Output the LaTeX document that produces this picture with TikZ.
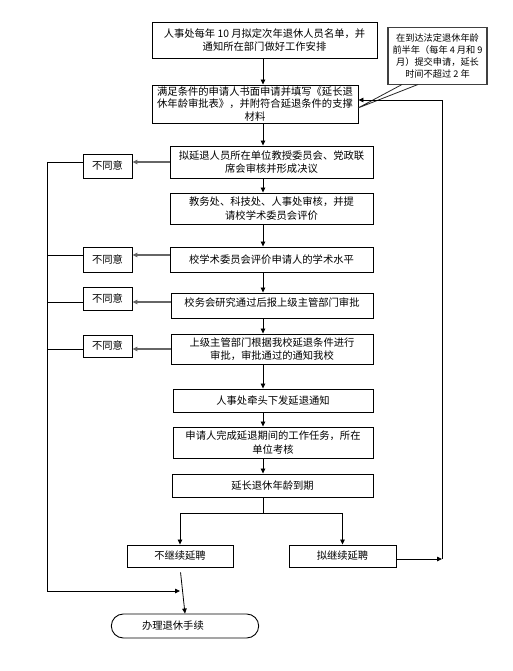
\documentclass[tikz,border=0pt]{standalone}
\usepackage{fontspec}
\setmainfont{Noto Sans CJK SC}
\usetikzlibrary{arrows.meta,shapes.misc}
\tikzset{
  box/.style={draw=black,line width=0.9pt,align=center,inner sep=1pt,font=\fontsize{10.3}{13.5}\selectfont},
  nobox/.style={box,minimum width=49pt},
  arr/.style={-{Triangle[length=5pt,width=4.5pt]},line width=0.8pt},
  garr/.style={-{Triangle[length=5pt,width=4.5pt]},line width=1.3pt,draw=black!60},
  ln/.style={line width=0.8pt},
}
\begin{document}
\begin{tikzpicture}[x=1pt,y=-1pt]
\useasboundingbox (0,0) rectangle (513,671);
% main nodes
\node[box,minimum width=225pt,minimum height=36pt] (b1) at (264.5,40) {人事处每年 10 月拟定次年退休人员名单，并\\通知所在部门做好工作安排};
\node[box,minimum width=206pt,minimum height=38pt,inner sep=0pt,font=\fontsize{10.3}{12.5}\selectfont] (b2) at (255,104) {满足条件的申请人书面申请并填写《延长退\\休年龄审批表》，并附符合延退条件的支撑\\材料};
\node[box,minimum width=203pt,minimum height=32pt] (b3) at (271.5,162) {拟延退人员所在单位教授委员会、党政联\\席会审核并形成决议};
\node[box,minimum width=203pt,minimum height=31pt] (b4) at (271.5,208.5) {教务处、科技处、人事处审核，并提\\请校学术委员会评价};
\node[box,minimum width=203pt,minimum height=25pt] (b5) at (271.5,259.5) {校学术委员会评价申请人的学术水平};
\node[box,minimum width=202pt,minimum height=25pt,text depth=7pt] (b6) at (272,305.5) {校务会研究通过后报上级主管部门审批};
\node[box,minimum width=202pt,minimum height=30pt] (b7) at (272,349) {上级主管部门根据我校延退条件进行\\审批，审批通过的通知我校};
\node[box,minimum width=200pt,minimum height=23pt] (b8) at (273,400.5) {人事处牵头下发延退通知};
\node[box,minimum width=200pt,minimum height=31pt] (b9) at (273,442.5) {申请人完成延退期间的工作任务，所在\\单位考核};
\node[box,minimum width=201pt,minimum height=23pt] (b10) at (272.5,485.5) {延长退休年龄到期};
% callout
\node[draw=black!75,line width=1.6pt,align=center,minimum width=99pt,minimum height=57pt,inner sep=1pt,font=\fontsize{9.2}{12}\selectfont] (co) at (437.5,56) {在到达法定退休年龄\\前半年（每年 4 月和 9\\月）提交申请，延长\\时间不超过 2 年};
\coordinate (cA) at (402,84.5);
\coordinate (cB) at (418,84.5);
\coordinate (tip) at (358,108);
\draw[ln,black!85] (cA) -- (tip) -- (cB);
% disagree nodes
\node[nobox,minimum height=24pt] (n1) at (107.5,166) {不同意};
\node[nobox,minimum height=25pt] (n2) at (107.5,259.5) {不同意};
\node[nobox,minimum height=23pt] (n3) at (107.5,298.5) {不同意};
\node[nobox,minimum height=22pt] (n4) at (107.5,346) {不同意};
% bottom nodes
\node[box,minimum width=106pt,minimum height=22pt] (nc) at (180,556) {不继续延聘};
\node[box,minimum width=107pt,minimum height=22pt] (yc) at (342.5,556) {拟继续延聘};
\node[draw=black,line width=0.9pt,rounded rectangle,minimum width=154pt,minimum height=24pt,font=\fontsize{10.3}{13.5}\selectfont,text width=86pt,align=left] (end) at (185,626) {办理退休手续};
% spine coordinates
\coordinate (sp) at (263,0);
\coordinate (lft) at (47,0);
\coordinate (y1) at (0,162);
\coordinate (y2) at (0,255);
\coordinate (y3) at (0,302);
\coordinate (y4) at (0,349);
\coordinate (jn) at (180,591);
\coordinate (sj) at (263,513);
\coordinate (rr) at (442,559);
\coordinate (rt) at (442,100);
% main chain
\draw[arr] (sp |- b1.south) -- (sp |- b2.north);
\draw[arr] (sp |- b2.south) -- (sp |- b3.north);
\draw[arr] (sp |- b3.south) -- (sp |- b4.north);
\draw[arr] (sp |- b4.south) -- (sp |- b5.north);
\draw[arr] (sp |- b5.south) -- (sp |- b6.north);
\draw[arr] (sp |- b6.south) -- (sp |- b7.north);
\draw[arr] (sp |- b7.south) -- (sp |- b8.north);
\draw[arr] (sp |- b8.south) -- (sp |- b9.north);
\draw[arr] (sp |- b9.south) -- (sp |- b10.north);
% disagree arrows
\draw[garr] (b3.west |- y1) -- (n1.east |- y1);
\draw[garr] (b5.west |- y2) -- (n2.east |- y2);
\draw[garr] (b6.west |- y3) -- (n3.east |- y3);
\draw[garr] (b7.west |- y4) -- (n4.east |- y4);
% left return
\draw[ln] (n1.west |- y1) -- (lft |- y1);
\draw[ln] (n2.west |- y2) -- (lft |- y2);
\draw[ln] (n3.west |- y3) -- (lft |- y3);
\draw[ln] (n4.west |- y4) -- (lft |- y4);
\draw[ln] (lft |- y1) -- (lft |- jn);
\draw[arr] (lft |- jn) -- (jn);
% split
\draw[ln] (sp |- b10.south) -- (sj);
\draw[arr] (sj) -| (nc.north);
\draw[arr] (sj) -| (yc.north);
\draw[arr,shorten <=5pt] (nc.south) -- (end.north);
% right return
\draw[arr] (yc.east |- rr) -- (rr);
\draw[ln] (rr) -- (rt);
\draw[arr] (rt) -- (b2.east |- rt);
\end{tikzpicture}
\end{document}
